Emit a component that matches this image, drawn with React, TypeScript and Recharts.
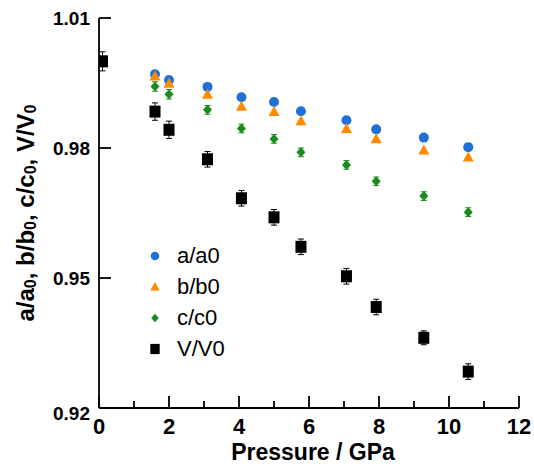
import React from "react";
import {
  ScatterChart,
  Scatter,
  XAxis,
  YAxis,
  ErrorBar,
  Legend,
  Label
} from "recharts";

document.body.style.margin = "0";

const FONT = '"Liberation Sans", Arial, Helvetica, sans-serif';

// pressure (GPa) and normalised lattice parameters
const pressure = [0.1, 1.6, 2.0, 3.1, 4.07, 5.0, 5.77, 7.07, 7.92, 9.28, 10.55];
const aRatio = [1.0, 0.997, 0.9957, 0.9941, 0.9917, 0.9906, 0.9885, 0.9864, 0.9843, 0.9824, 0.9802];
const bRatio = [1.0, 0.9965, 0.9948, 0.9923, 0.9895, 0.9883, 0.9862, 0.9844, 0.982, 0.9794, 0.9778];
const cRatio = [1.0, 0.9942, 0.9924, 0.9888, 0.9845, 0.9821, 0.979, 0.9761, 0.9723, 0.9689, 0.9652];
const vRatio = [1.0, 0.9884, 0.9842, 0.9774, 0.9684, 0.964, 0.9572, 0.9504, 0.9433, 0.9362, 0.9284];
const cErr = [0.0012, 0.0011, 0.0011, 0.001, 0.001, 0.001, 0.001, 0.001, 0.001, 0.001, 0.001];
const vErr = [0.0022, 0.002, 0.002, 0.0018, 0.0018, 0.0018, 0.0018, 0.0018, 0.0018, 0.0016, 0.0018];

const seriesNames = ["a/a0", "b/b0", "c/c0", "V/V0"];
const seriesColors = ["#1f70d8", "#ff8a00", "#1b8c1b", "#000000"];

const xTicks = [0, 1, 2, 3, 4, 5, 6, 7, 8, 9, 10, 11, 12];
const xTopTicks = [2, 4, 6, 8, 10];
const yTicks = [0.92, 0.95, 0.98, 1.01];

const toPoints = (ys: number[], errs?: number[]) =>
  pressure.map((x, i) => ({ x, y: ys[i], err: errs ? errs[i] : 0 }));

const dataA = toPoints(aRatio);
const dataB = toPoints(bRatio);
const dataC = toPoints(cRatio, cErr);
const dataV = toPoints(vRatio, vErr);

const marker = (kind: number, cx: number, cy: number, color: string, s = 1) => {
  if (kind === 0) return <circle cx={cx} cy={cy} r={5 * s} fill={color} />;
  if (kind === 1)
    return (
      <polygon
        points={`${cx},${cy - 6 * s} ${cx + 5.5 * s},${cy + 4 * s} ${cx - 5.5 * s},${cy + 4 * s}`}
        fill={color}
      />
    );
  if (kind === 2)
    return (
      <polygon
        points={`${cx},${cy - 5 * s} ${cx + 4.5 * s},${cy} ${cx},${cy + 5 * s} ${cx - 4.5 * s},${cy}`}
        fill={color}
      />
    );
  return <rect x={cx - 5.5 * s} y={cy - 6 * s} width={11 * s} height={12 * s} fill={color} />;
};

const shapeFor = (kind: number) => (props: any) => marker(kind, props.cx, props.cy, seriesColors[kind]);

const BottomTick = (props: any) => {
  const { x, y, payload } = props;
  const major = payload.value % 2 === 0;
  return (
    <g>
      <line x1={x} y1={y} x2={x} y2={y - (major ? 12 : 7)} stroke="#000" strokeWidth={1.8} />
      {major && (
        <text x={x} y={y + 18} dy="0.35em" textAnchor="middle" fontSize={22} fontWeight="bold" fontFamily={FONT}>
          {payload.value}
        </text>
      )}
    </g>
  );
};

const TopTick = (props: any) => {
  const { x, y } = props;
  return <line x1={x} y1={y} x2={x} y2={y + 12} stroke="#000" strokeWidth={1.8} />;
};

const LeftTick = (props: any) => {
  const { x, y, payload } = props;
  const shift = payload.value < 0.93 ? 5 : 0;
  return (
    <g>
      <line x1={x} y1={y} x2={x + 12} y2={y} stroke="#000" strokeWidth={1.8} />
      <text x={x - 9} y={y + shift} dy="0.35em" textAnchor="end" fontSize={19} fontWeight="bold" fontFamily={FONT}>
        {payload.value.toFixed(2)}
      </text>
    </g>
  );
};

const XTitle = (props: any) => {
  const { viewBox } = props;
  return (
    <text
      x={viewBox.x + viewBox.width / 2 + 4}
      y={viewBox.y + viewBox.height - 12}
      dy="0.35em"
      textAnchor="middle"
      fontSize={23}
      fontWeight="bold"
      fontFamily={FONT}
    >
      Pressure / GPa
    </text>
  );
};

const YTitle = (props: any) => {
  const { viewBox } = props;
  const cx = viewBox.x + 25;
  const cy = viewBox.y + viewBox.height / 2;
  const sub = { fontSize: 16 };
  return (
    <text
      x={cx}
      y={cy}
      transform={`rotate(-90, ${cx}, ${cy})`}
      textAnchor="middle"
      dominantBaseline="central"
      fontSize={24}
      fontWeight="bold"
      fontFamily={FONT}
    >
      a/a<tspan {...sub} dy={5}>0</tspan>
      <tspan dy={-5}>, b/b</tspan>
      <tspan {...sub} dy={5}>0</tspan>
      <tspan dy={-5}>, c/c</tspan>
      <tspan {...sub} dy={5}>0</tspan>
      <tspan dy={-5}>, V/V</tspan>
      <tspan {...sub} dy={5}>0</tspan>
    </text>
  );
};

const renderLegend = () => (
  <div style={{ fontFamily: FONT, fontSize: 22, color: "#000" }}>
    {seriesNames.map((name, i) => (
      <div key={name} style={{ display: "flex", alignItems: "center", height: 31 }}>
        <svg width={20} height={20}>
          {marker(i, 10, 10, seriesColors[i], 0.85)}
        </svg>
        <span style={{ marginLeft: 12 }}>{name}</span>
      </div>
    ))}
  </div>
);

export default function App() {
  return (
    <ScatterChart
      width={534}
      height={464}
      margin={{ top: 18, right: 15, bottom: 0, left: 0 }}
      style={{ background: "#fff" }}
    >
      <XAxis
        dataKey="x"
        type="number"
        domain={[0, 12]}
        ticks={xTicks}
        interval={0}
        height={56}
        tickSize={0}
        tickMargin={0}
        tickLine={false}
        tick={<BottomTick />}
        axisLine={{ stroke: "#000", strokeWidth: 1.8 }}
        allowDataOverflow
      >
        <Label content={<XTitle />} />
      </XAxis>
      <XAxis
        xAxisId="top"
        orientation="top"
        dataKey="x"
        type="number"
        domain={[0, 12]}
        ticks={xTopTicks}
        interval={0}
        height={0}
        tickSize={0}
        tickMargin={0}
        tickLine={false}
        tick={<TopTick />}
        axisLine={{ stroke: "#000", strokeWidth: 1.8 }}
        allowDataOverflow
      />
      <YAxis
        dataKey="y"
        type="number"
        domain={[0.92, 1.01]}
        ticks={yTicks}
        interval={0}
        width={99}
        tickSize={0}
        tickMargin={0}
        tickLine={false}
        tick={<LeftTick />}
        axisLine={{ stroke: "#000", strokeWidth: 1.8 }}
        allowDataOverflow
      >
        <Label content={<YTitle />} />
      </YAxis>
      <YAxis
        yAxisId="right"
        orientation="right"
        dataKey="y"
        type="number"
        domain={[0.92, 1.01]}
        width={0}
        tick={false}
        tickLine={false}
        axisLine={{ stroke: "#000", strokeWidth: 1.8 }}
        allowDataOverflow
      />
      <Legend
        layout="vertical"
        align="center"
        verticalAlign="middle"
        content={renderLegend}
        wrapperStyle={{ left: 145, top: 240, width: 120 }}
      />
      <Scatter name={seriesNames[0]} data={dataA} fill={seriesColors[0]} shape={shapeFor(0)} isAnimationActive={false} />
      <Scatter name={seriesNames[1]} data={dataB} fill={seriesColors[1]} shape={shapeFor(1)} isAnimationActive={false} />
      <Scatter name={seriesNames[2]} data={dataC} fill={seriesColors[2]} shape={shapeFor(2)} isAnimationActive={false}>
        <ErrorBar dataKey="err" direction="y" width={3} stroke={seriesColors[2]} strokeWidth={1} />
      </Scatter>
      <Scatter name={seriesNames[3]} data={dataV} fill={seriesColors[3]} shape={shapeFor(3)} isAnimationActive={false}>
        <ErrorBar dataKey="err" direction="y" width={3} stroke={seriesColors[3]} strokeWidth={1} />
      </Scatter>
    </ScatterChart>
  );
}
